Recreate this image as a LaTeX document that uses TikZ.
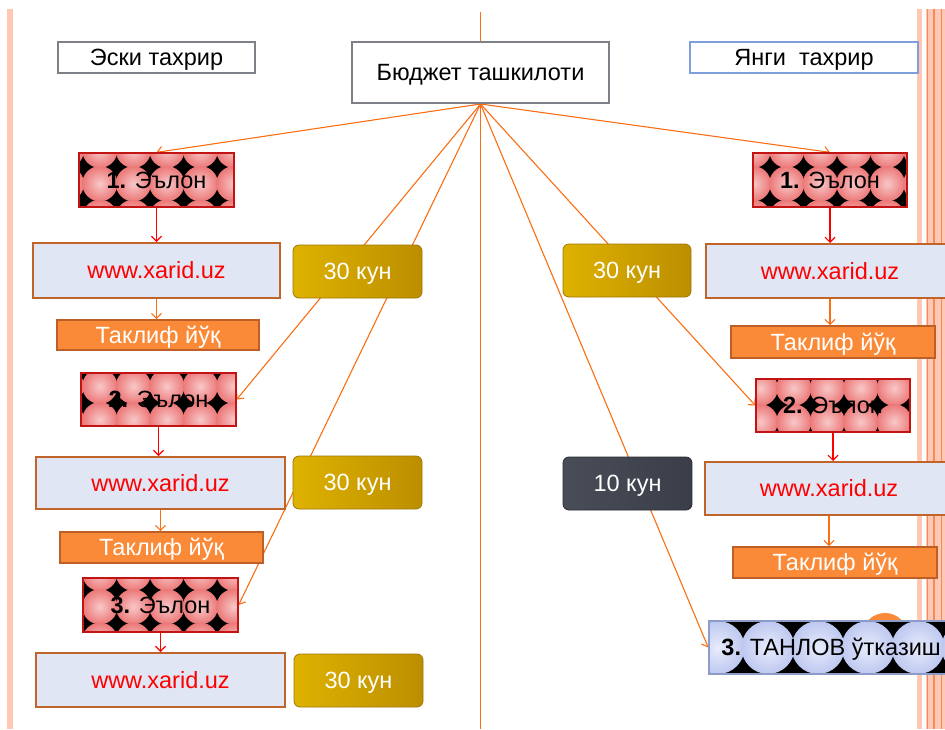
\documentclass[tikz,border=0pt]{standalone}
\usepackage{fontspec}
\setmainfont{Liberation Sans}
\usetikzlibrary{arrows.meta,calc}
\pgfdeclarelayer{bg}
\pgfsetlayers{bg,main}
\definecolor{connc}{RGB}{250,110,20}
\definecolor{boxgray}{RGB}{125,128,135}
\definecolor{boxblue}{RGB}{125,160,220}
\definecolor{webfill}{RGB}{224,230,244}
\definecolor{webline}{RGB}{192,100,42}
\definecolor{offerfill}{RGB}{250,138,56}
\definecolor{offerline}{RGB}{190,95,40}
\definecolor{patline}{RGB}{195,20,20}
\definecolor{pinkin}{RGB}{248,200,200}
\definecolor{pinkout}{RGB}{236,120,120}
\definecolor{bluein}{RGB}{232,236,252}
\definecolor{blueout}{RGB}{190,200,240}
\definecolor{tanline}{RGB}{140,155,200}
\definecolor{stripe}{RGB}{255,200,180}
\definecolor{stripeline}{RGB}{242,140,90}
\definecolor{goldA}{RGB}{222,178,0}
\definecolor{goldB}{RGB}{238,200,16}
\definecolor{goldC}{RGB}{188,142,0}
\definecolor{goldD}{RGB}{160,120,0}
\definecolor{darkA}{RGB}{72,77,88}
\definecolor{darkB}{RGB}{86,92,104}
\definecolor{darkC}{RGB}{58,62,72}
\definecolor{darkD}{RGB}{40,42,48}
\tikzset{
  every node/.style={font=\fontsize{23.5}{28}\selectfont, inner sep=0pt, text height=16.8pt, text depth=0pt},
  plainbox/.style={draw=boxgray, line width=2pt, fill=white},
  bluebox/.style={draw=boxblue, line width=2pt, fill=white},
  webbox/.style={draw=webline, line width=2pt, fill=webfill, text=red},
  offer/.style={draw=offerline, line width=1.6pt, fill=offerfill, text=white},
  patbox/.style={draw=patline, line width=1.3pt},
  tanbox/.style={draw=tanline, line width=1.5pt},
  daygold/.style={rounded corners=6pt, left color=goldA, middle color=goldB, right color=goldC, draw=goldD, line width=0.8pt, text=white},
  daydark/.style={rounded corners=6pt, left color=darkA, middle color=darkB, right color=darkC, draw=darkD, line width=0.8pt, text=white},
  conn/.style={draw=connc, line width=1.1pt},
  connarr/.style={conn, -{Straight Barb[length=5pt,width=10pt]}},
  redarr/.style={draw=red, line width=1.1pt, -{Straight Barb[length=5pt,width=10pt]}},
  orarr/.style={draw=connc, line width=1.1pt, -{Straight Barb[length=5pt,width=10pt]}}
}
\newcommand\pinkpattern[6]{%
  \begin{scope}
    \clip (#1,#2) rectangle (#3,#4);
    \fill[black] (#1,#2) rectangle (#3,#4);
    \foreach \i in {0,...,6}{\foreach \j in {0,...,3}{
      \shade[inner color=pinkin, outer color=pinkout] ({#5+\i*33.5},{#6+\j*33.5}) circle (17.6pt);
    }}
  \end{scope}}
\begin{document}
\begin{tikzpicture}[x=1pt,y=-1pt]
\useasboundingbox (0,0) rectangle (945,729);
\clip (0,0) rectangle (945,729);

% ---- boxes
\node[plainbox, minimum width=197pt, minimum height=31pt] (eski) at (156.5,57.5) {Эски тахрир};
\node[bluebox, minimum width=228pt, minimum height=31pt] (yangi) at (804,57.5) {Янги~ тахрир};
\node[plainbox, minimum width=257pt, minimum height=61pt] (budget) at (480.5,72.5) {Бюджет ташкилоти};

% left column
\pinkpattern{79}{153}{234}{207}{66.35}{150.25}
\node[patbox, minimum width=155pt, minimum height=54pt] (L1e) at (156.5,180) {\textbf{1.} Эълон};
\node[webbox, minimum width=247pt, minimum height=55pt] (Lw1) at (156.5,270.5) {www.xarid.uz};
\node[offer, minimum width=202pt, minimum height=30pt] (Lt1) at (158,335) {Таклиф йўқ};
\pinkpattern{81}{373}{236}{426}{66.35}{352.75}
\node[patbox, minimum width=155pt, minimum height=53pt] (L2e) at (158.5,399.5) {\textbf{2.} Эълон};
\node[webbox, minimum width=249pt, minimum height=52pt] (Lw2) at (160.5,483) {www.xarid.uz};
\node[offer, minimum width=203pt, minimum height=31pt] (Lt2) at (161.5,547.5) {Таклиф йўқ};
\pinkpattern{83}{578}{238}{632}{66.35}{539.75}
\node[patbox, minimum width=155pt, minimum height=54pt] (L3e) at (160.5,605) {\textbf{3.} Эълон};
\node[webbox, minimum width=249pt, minimum height=54pt] (Lw3) at (160.5,680) {www.xarid.uz};

% day boxes
\node[daygold, minimum width=129pt, minimum height=53pt] (Ld1) at (357.5,271.5) {30 кун};
\node[daygold, minimum width=129pt, minimum height=53pt] (Ld2) at (357.5,482.5) {30 кун};
\node[daygold, minimum width=129pt, minimum height=53pt] (Ld3) at (358.5,680.5) {30 кун};
\node[daygold, minimum width=128pt, minimum height=53pt] (Rd1) at (627,270.5) {30 кун};
\node[daydark, minimum width=129pt, minimum height=53pt] (Rd2) at (627.5,483.5) {10 кун};

% right column
\pinkpattern{753}{153}{907}{207}{753.25}{150.25}
\node[patbox, minimum width=154pt, minimum height=54pt] (R1e) at (830,180) {\textbf{1.} Эълон};
\node[webbox, minimum width=248pt, minimum height=54pt] (Rw1) at (830,271) {www.xarid.uz};
\node[offer, minimum width=204pt, minimum height=32pt] (Rt1) at (833,342) {Таклиф йўқ};
\pinkpattern{756}{379}{910}{432}{760.25}{354.75}
\node[patbox, minimum width=154pt, minimum height=53pt] (R2e) at (833,405.5) {\textbf{2.} Эълон};
\node[webbox, minimum width=248pt, minimum height=53pt] (Rw2) at (829,488.5) {www.xarid.uz};
\node[offer, minimum width=204pt, minimum height=31pt] (Rt2) at (835,562.5) {Таклиф йўқ};

% tanlov
\fill[offerfill] (885,636) circle (23pt);
\begin{scope}
  \clip (709,621) rectangle (985,674);
  \fill[black] (709,621) rectangle (985,674);
  \foreach \i in {0,...,5}{
    \shade[inner color=bluein, outer color=blueout] ({718+\i*50},647.5) circle (26.5pt);
  }
\end{scope}
\node[tanbox, minimum width=276pt, minimum height=53pt] (tanlov) at (847,647.5) {};
\node[anchor=west] (tanlovtext) at ([xshift=13pt]tanlov.west) {\textbf{3.} ТАНЛОВ ўтказиш};

% ---- background: stripes and connectors
\begin{pgfonlayer}{bg}
  \fill[stripe] (7,9) rectangle (13,729);
  \fill[stripe] (917,9) rectangle (922,729);
  \fill[stripe] (926,9) rectangle (945,729);
  \foreach \sx in {927.7,934,941.7}{\draw[stripeline, line width=1.3pt] (\sx,9) -- (\sx,729);}
  \coordinate (top) at (480.5,12);
  \coordinate (bottom) at (480.5,729);
  \draw[conn] (top) -- (budget.north);
  \draw[conn] (budget.south) -- (bottom);
  \draw[connarr] (budget.south) -- (L1e.north);
  \draw[connarr] (budget.south) -- (R1e.north);
  \draw[connarr] (budget.south) -- (L2e.east);
  \draw[connarr] (budget.south) -- (L3e.east);
  \draw[connarr] (budget.south) -- (R2e.west);
  \draw[connarr] (budget.south) -- (tanlov.west);
\end{pgfonlayer}

% ---- inner arrows
\draw[redarr] (L1e.south) -- (L1e.south |- Lw1.north);
\draw[orarr] (Lw1.south) -- (Lw1.south |- Lt1.north);
\draw[redarr] (L2e.south) -- (L2e.south |- Lw2.north);
\draw[orarr] (Lw2.south) -- (Lw2.south |- Lt2.north);
\draw[redarr] (L3e.south) -- (L3e.south |- Lw3.north);
\draw[redarr] (R1e.south) -- (R1e.south |- Rw1.north);
\draw[orarr] (Rw1.south) -- (Rw1.south |- Rt1.north);
\draw[redarr] (R2e.south) -- (R2e.south |- Rw2.north);
\draw[orarr] (Rw2.south) -- (Rw2.south |- Rt2.north);
\end{tikzpicture}
\end{document}
